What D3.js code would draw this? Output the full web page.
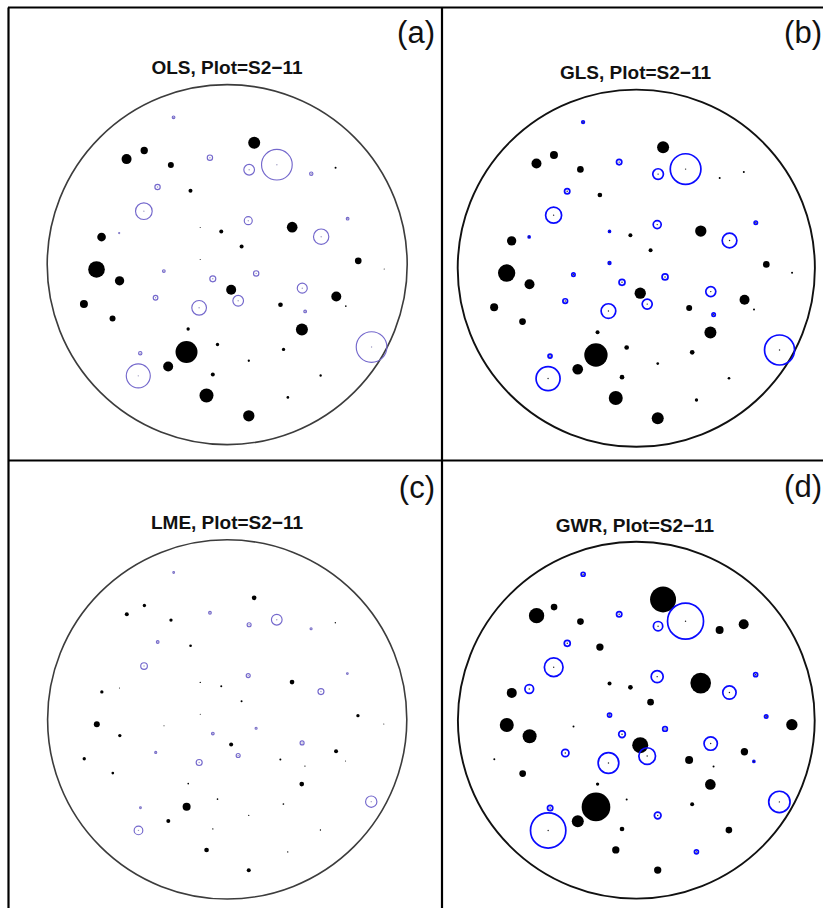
<!DOCTYPE html>
<html><head><meta charset="utf-8">
<script src="https://cdn.jsdelivr.net/npm/d3@7/dist/d3.min.js"></script>
<style>body{margin:0;background:#fff;overflow:hidden}</style>
</head><body>
<svg id="chart" width="823" height="908"></svg>
<script>
// ---- data: tree stem positions (plot units, plot radius = 100) ----
const treeX = [-29.8, 15.0, -46.1, -55.9, -31.3, -9.6, 12.2, 27.6, 46.7, 60.2, -38.7, -20.4, -46.3, 11.7, -15.0, -3.3, 36.1, 52.2, 66.9, -69.8, -60.0, 8.0, -15.0, 72.8, 87.2, -72.6, -59.8, -35.2, -8.0, 16.1, 2.2, 41.7, 60.6, -39.8, -79.6, -15.6, 6.1, 29.6, 43.3, 65.9, -63.7, 41.5, -21.7, 80.2, -22.6, -5.4, 31.3, -48.3, -32.8, 12.0, -49.4, -8.0, 51.9, -11.5, 33.7, 12.0];
const treeY = [81.8, 67.7, 63.4, 58.6, 55.3, 59.4, 52.7, 55.5, 50.5, 53.8, 43.1, 41.0, 29.7, 24.4, 20.6, 18.4, 20.8, 15.5, 25.5, 15.3, 17.5, 10.1, 2.9, 2.1, -2.5, -2.7, -9.0, -3.6, -7.9, -4.9, -14.0, -13.1, -17.7, -18.4, -21.9, -24.0, -20.1, -22.3, -26.0, -23.1, -29.9, -36.0, -35.8, -45.8, -48.6, -44.4, -47.1, -49.2, -56.6, -53.4, -61.8, -61.0, -61.6, -72.7, -73.8, -84.0];

// ---- residuals per model (positive = black filled, negative = blue open) ----
const residOLS = [-0.4, 1.8, 1.1, 1.5, 0.9, -0.8, -1.6, -4.6, -0.5, 0.3,
  -0.8, 0.6, -2.5, -1.2, 0.15, 0.6, 1.6, -2.3, -0.4, 1.3,
  -0.15, 0.6, 0.15, 1.0, 0.15, 2.5, 1.4, -0.4, -0.9, -0.8,
  1.5, -1.5, 1.5, -0.7, 1.2, -2.2, -1.6, 0.7, -0.4, 0.25,
  0.9, 1.8, 0.5, -4.6, 3.3, 0.5, 0.5, -0.5, 1.5, 0.35,
  -3.6, 0.6, 0.35, 2.1, 0.4, 1.7];
const residGLS = [-0.4, 1.8, 1.2, 1.5, 1.0, -0.8, -1.6, -4.6, 0.3, 0.3,
  -0.8, 0.7, -2.4, -1.2, -0.3, 0.6, 1.7, -2.2, -0.5, 1.4,
  -0.3, 0.6, -0.4, 1.0, 0.3, 2.6, 1.5, -0.5, -0.9, -0.9,
  1.7, -1.5, 1.5, -0.7, 1.2, -2.2, -1.5, 0.9, -0.5, 0.3,
  1.0, 1.8, 0.6, -4.5, 3.5, 0.7, 0.7, -0.6, 1.6, 0.4,
  -3.6, 0.7, 0.4, 2.1, 0.5, 1.8];
const residLME = [-0.25, 0.7, 0.5, 0.6, 0.5, -0.4, -0.6, -1.6, -0.3, 0.2,
  -0.4, 0.4, -1.0, -0.6, 0.2, 0.3, 0.7, -0.9, -0.25, 0.5,
  0.15, 0.3, 0.15, 0.5, 0.15, 0.9, 0.5, 0.15, -0.4, -0.3,
  0.6, -0.6, 0.6, -0.3, 0.5, -0.9, -0.6, 0.3, 0.2, 0.15,
  0.4, 0.7, 0.25, -1.7, 1.2, 0.25, 0.25, -0.25, 0.6, 0.2,
  -1.3, 0.2, 0.2, 0.7, 0.2, 0.6];
const residGWR = [-0.6, 3.9, 1.0, 2.3, 1.0, -0.8, -1.4, -5.4, 1.2, 1.5,
  -0.9, 1.1, -2.8, -1.8, 0.6, 0.7, 3.1, -2.0, -0.6, 1.5,
  -1.3, 1.0, -0.6, -0.5, 1.7, 2.1, 2.1, 0.3, -1.0, -0.7,
  2.4, -2.0, 1.1, -1.1, 0.3, -3.1, -2.5, 1.2, 0.3, -0.3,
  1.0, 1.6, 0.5, -3.2, 4.3, 0.3, 0.6, -0.8, 1.8, -1.0,
  -5.3, 0.7, 1.0, 1.1, -0.6, 1.1];

const titles = ["OLS, Plot=S2\u221211", "GLS, Plot=S2\u221211", "LME, Plot=S2\u221211", "GWR, Plot=S2\u221211"];
const labels = ["(a)", "(b)", "(c)", "(d)"];
const residuals = [residOLS, residGLS, residLME, residGWR];

// ---- layout / style (separate from data) ----
const layout = [
  {cx: 227.2, cy: 264.6, R: 180.0, tx: 227,   ty: 74,  lx: 435, ly: 43},
  {cx: 636.3, cy: 268.2, R: 178.6, tx: 635.5, ty: 79,  lx: 822, ly: 43},
  {cx: 227.2, cy: 719.4, R: 179.6, tx: 227,   ty: 529, lx: 435, ly: 498},
  {cx: 636.3, cy: 720.2, R: 178.4, tx: 635,   ty: 532, lx: 822, ly: 497}
];
const styles = [
  {blue: "#7468cc", dot: "#9c98c0", ring: "#3c3c3c", sw: 1.15, ringW: 1.6},
  {blue: "#0a0aff", dot: "#222",    ring: "#111",    sw: 1.7,  ringW: 1.9},
  {blue: "#7468cc", dot: "#9c98c0", ring: "#3c3c3c", sw: 1.15, ringW: 1.6},
  {blue: "#0a0aff", dot: "#222",    ring: "#111",    sw: 1.7,  ringW: 1.9}
];

const svg = d3.select("#chart");
svg.append("rect").attr("width", 823).attr("height", 908).attr("fill", "#fff");

const rScale = d3.scaleLinear().domain([0, 1]).range([0, 10 / 3]);

residuals.forEach((res, p) => {
  const L = layout[p], S = styles[p];
  const x = d3.scaleLinear().domain([-100, 100]).range([L.cx - L.R, L.cx + L.R]);
  const y = d3.scaleLinear().domain([-100, 100]).range([L.cy + L.R, L.cy - L.R]);
  const g = svg.append("g");
  const pts = treeX.map((tx, i) => ({x: tx, y: treeY[i], v: res[i]}));

  // plot boundary
  g.append("circle").attr("cx", x(0)).attr("cy", y(0)).attr("r", x(100) - x(0))
    .attr("fill", "none").attr("stroke", S.ring).attr("stroke-width", S.ringW);

  // positive residuals: filled black
  g.selectAll("circle.pos").data(pts.filter(d => d.v > 0)).join("circle")
    .attr("class", "pos")
    .attr("cx", d => x(d.x)).attr("cy", d => y(d.y)).attr("r", d => rScale(d.v))
    .attr("fill", "#000");

  // negative residuals: open blue circles
  g.selectAll("circle.neg").data(pts.filter(d => d.v < 0)).join("circle")
    .attr("class", "neg")
    .attr("cx", d => x(d.x)).attr("cy", d => y(d.y)).attr("r", d => rScale(-d.v))
    .attr("fill", "none").attr("stroke", S.blue).attr("stroke-width", S.sw);

  // tree centre dots
  g.selectAll("circle.ctr").data(pts.filter(d => d.v < 0)).join("circle")
    .attr("class", "ctr")
    .attr("cx", d => x(d.x)).attr("cy", d => y(d.y)).attr("r", 0.7)
    .attr("fill", S.dot);

  g.append("text").attr("x", L.tx).attr("y", L.ty).attr("text-anchor", "middle")
    .attr("font-family", "'Liberation Sans', Arial, Helvetica, sans-serif")
    .attr("font-weight", "bold").attr("font-size", 19).attr("fill", "#111")
    .text(titles[p]);

  g.append("text").attr("x", L.lx).attr("y", L.ly).attr("text-anchor", "end")
    .attr("font-family", "'Liberation Sans', Arial, Helvetica, sans-serif")
    .attr("font-size", 31).attr("fill", "#111")
    .text(labels[p]);
});

// panel frame lines
const frame = [
  [8.5, 7.5, 8.5, 908], [8, 7.5, 823, 7.5],
  [442, 7, 442, 908], [8, 460.5, 823, 460.5]
];
svg.selectAll("line.frame").data(frame).join("line").attr("class", "frame")
  .attr("x1", d => d[0]).attr("y1", d => d[1]).attr("x2", d => d[2]).attr("y2", d => d[3])
  .attr("stroke", "#000").attr("stroke-width", 2.2);
</script>
</body></html>
